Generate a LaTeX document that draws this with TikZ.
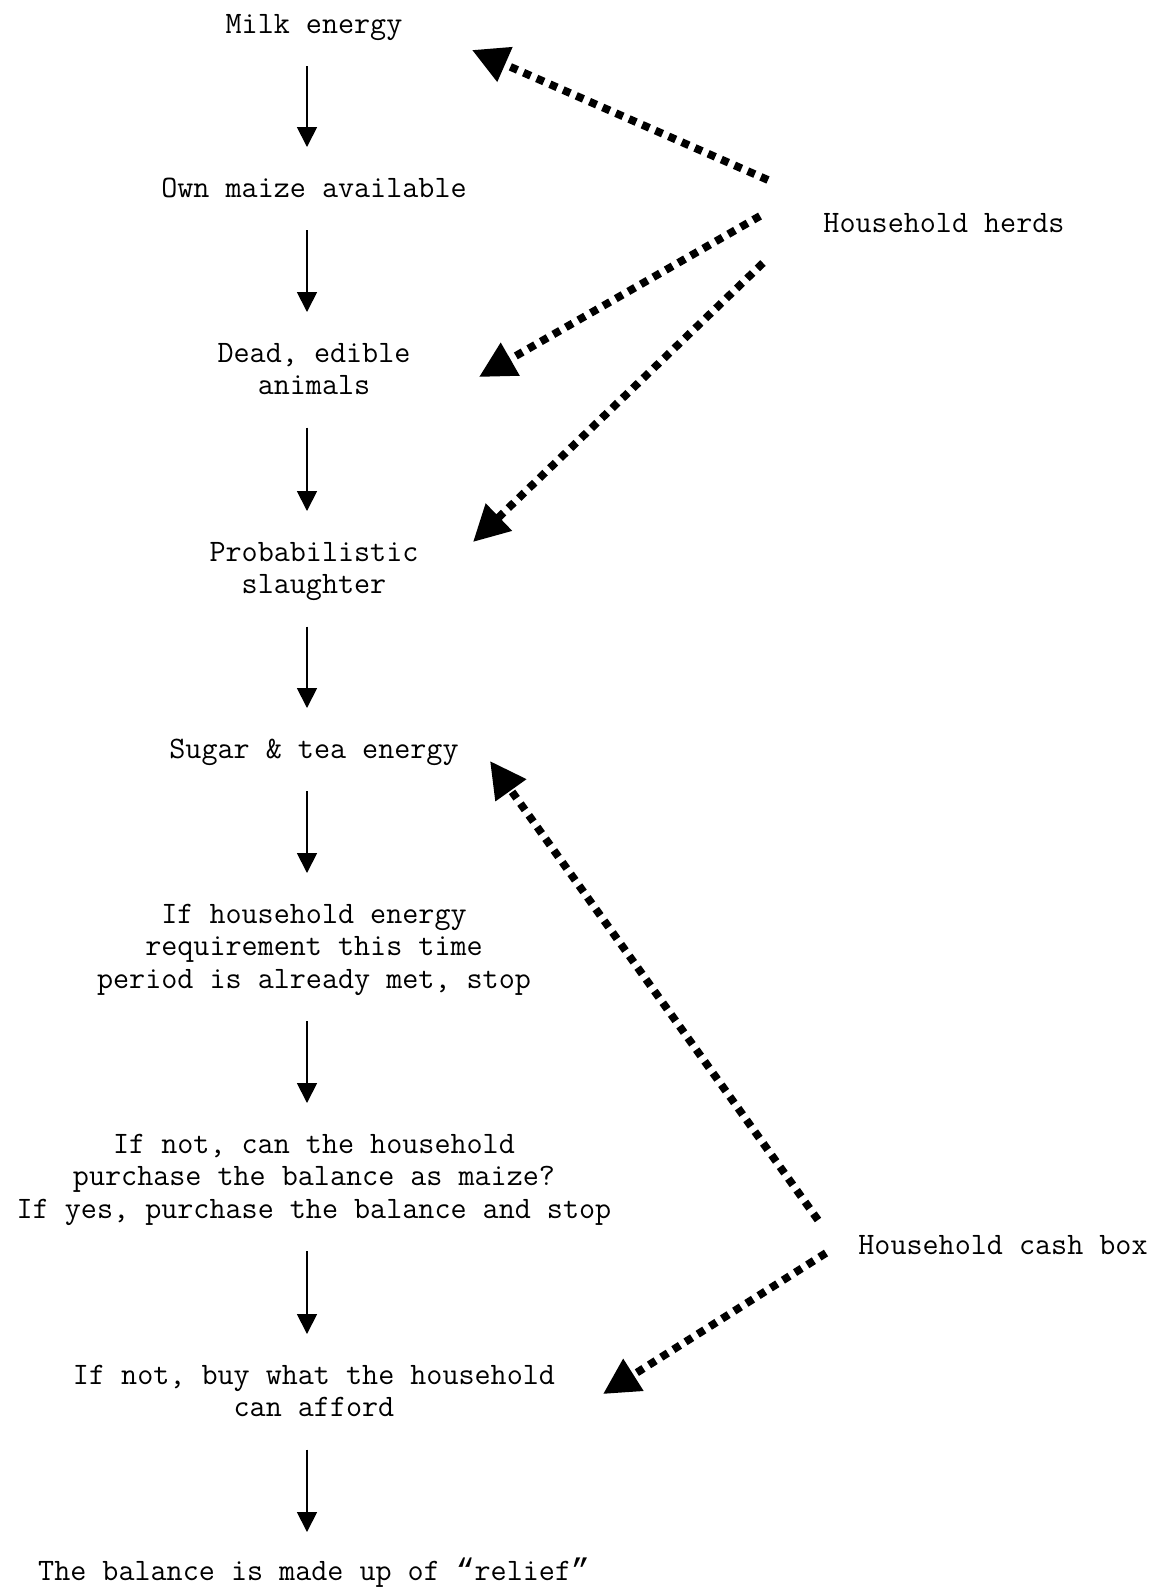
\documentclass[tikz,border=0pt]{standalone}
\usepackage{fontspec}
\newfontfamily\quotefont{Liberation Mono}
\usetikzlibrary{arrows.meta,calc}

\tikzset{
  txt/.style={font=\ttfamily\fontsize{15.6}{16.25}\selectfont, align=center, inner sep=0pt, anchor=base},
  flow/.style={-{Triangle[length=10pt,width=10pt]}, line width=0.9pt},
  feed/.style={-{Triangle[length=18pt,width=18pt]}, line width=3.9pt, dash pattern=on 3.9pt off 3.3pt},
}

\begin{document}
\begin{tikzpicture}[x=0.5pt, y=-0.5pt]
  \useasboundingbox (0,0) rectangle (1157,1587);

  % main chain (base = last line)
  \node[txt] (milk)      at (314,33)     {Milk energy};
  \node[txt] (maize)     at (314,197)    {Own maize available};
  \node[txt] (dead)      at (314,394.5)  {Dead, edible\\animals};
  \node[txt] (slaughter) at (314,593.5)  {Probabilistic\\slaughter};
  \node[txt] (sugar)     at (314,758)    {Sugar \& tea energy};
  \node[txt] (met)       at (314,988)    {If household energy\\requirement this time\\period is already met, stop};
  \node[txt] (purchase)  at (314,1218)   {If not, can the household\\purchase the balance as maize?\\If yes, purchase the balance and stop};
  \node[txt] (afford)    at (314,1416.5) {If not, buy what the household\\can afford};
  \node[txt] (relief)    at (314,1580)   {The balance is made up of {\quotefont “}relief{\quotefont ”}};

  % sources
  \node[txt] (herds) at (944,232)   {Household herds};
  \node[txt] (cash)  at (1003,1254) {Household cash box};

  \draw[flow] ($(milk.base)+(-7,33)$)      -- ($(maize.base)+(-7,-50)$);
  \draw[flow] ($(maize.base)+(-7,33)$)     -- ($(dead.base)+(-7,-82.5)$);
  \draw[flow] ($(dead.base)+(-7,33)$)      -- ($(slaughter.base)+(-7,-82.5)$);
  \draw[flow] ($(slaughter.base)+(-7,33)$) -- ($(sugar.base)+(-7,-50)$);
  \draw[flow] ($(sugar.base)+(-7,33)$)     -- ($(met.base)+(-7,-115)$);
  \draw[flow] ($(met.base)+(-7,33)$)       -- ($(purchase.base)+(-7,-115)$);
  \draw[flow] ($(purchase.base)+(-7,33)$)  -- ($(afford.base)+(-7,-82.5)$);
  \draw[flow] ($(afford.base)+(-7,33)$)    -- ($(relief.base)+(-7,-48)$);

  % dotted feeds
  \draw[feed] ($(herds.base)+(-176,-52)$) -- ($(milk.base)+(158,17)$);
  \draw[feed] ($(herds.base)+(-184,-16)$) -- ($(dead.base)+(165,-17.5)$);
  \draw[feed] ($(herds.base)+(-181,31)$)  -- ($(slaughter.base)+(159,-51.5)$);
  \draw[feed] ($(cash.base)+(-185,-34)$)  -- ($(sugar.base)+(176,3)$);
  \draw[feed] ($(cash.base)+(-177,-1)$)   -- ($(afford.base)+(289,-22.5)$);
\end{tikzpicture}
\end{document}
